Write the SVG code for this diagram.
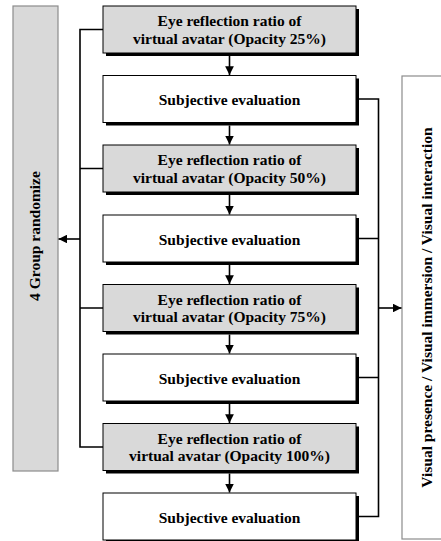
<svg xmlns="http://www.w3.org/2000/svg" width="441" height="541" viewBox="0 0 441 541">
<defs>
<style>
.bg{fill:#ffffff}
.side{fill:#d9d9d9;stroke:#8c8c8c;stroke-width:1.2}
.side2{fill:#ffffff;stroke:#8c8c8c;stroke-width:1.2}
.shadow{fill:#000000}
.gray{fill:#d9d9d9;stroke:#000;stroke-width:1}
.white{fill:#ffffff;stroke:#000;stroke-width:1}
.t{font-family:"Liberation Serif","Times New Roman",serif;font-weight:bold;font-size:15.5px;fill:#000;text-anchor:middle}
.c{fill:none;stroke:#000;stroke-width:1.6}
</style>
<marker id="ah" viewBox="0 0 10 10" refX="10" refY="5" markerWidth="5.5" markerHeight="5.5" orient="auto" markerUnits="strokeWidth">
<path d="M0,0 L10,5 L0,10 Z" fill="#000"/>
</marker>
</defs>
<rect class="bg" x="0" y="0" width="441" height="541"/>

<g id="randomize">
<rect class="side" x="13" y="6" width="45" height="465"/>
<text class="t" transform="translate(40,236) rotate(-90)">4 Group randomize</text>
</g>

<g id="outcomes">
<rect class="side2" x="402" y="76" width="50" height="463"/>
<text class="t" transform="translate(432,307.5) rotate(-90)">Visual presence / Visual immersion / Visual interaction</text>
</g>

<g id="eye25">
<rect class="shadow" x="106" y="9" width="253" height="47"/>
<rect class="gray" x="103" y="6" width="253" height="47"/>
<text class="t" x="229.5" y="26">Eye reflection ratio of</text>
<text class="t" x="229.5" y="43.5">virtual avatar (Opacity 25%)</text>
</g>
<g id="eval1">
<rect class="shadow" x="106" y="78.5" width="253" height="47"/>
<rect class="white" x="103" y="75.5" width="253" height="47"/>
<text class="t" x="229.5" y="105">Subjective evaluation</text>
</g>
<g id="eye50">
<rect class="shadow" x="106" y="148" width="253" height="47"/>
<rect class="gray" x="103" y="145" width="253" height="47"/>
<text class="t" x="229.5" y="165">Eye reflection ratio of</text>
<text class="t" x="229.5" y="182.5">virtual avatar (Opacity 50%)</text>
</g>
<g id="eval2">
<rect class="shadow" x="106" y="218" width="253" height="47"/>
<rect class="white" x="103" y="215" width="253" height="47"/>
<text class="t" x="229.5" y="244.5">Subjective evaluation</text>
</g>
<g id="eye75">
<rect class="shadow" x="106" y="287.5" width="253" height="47"/>
<rect class="gray" x="103" y="284.5" width="253" height="47"/>
<text class="t" x="229.5" y="304.5">Eye reflection ratio of</text>
<text class="t" x="229.5" y="322">virtual avatar (Opacity 75%)</text>
</g>
<g id="eval3">
<rect class="shadow" x="106" y="357" width="253" height="47"/>
<rect class="white" x="103" y="354" width="253" height="47"/>
<text class="t" x="229.5" y="383.5">Subjective evaluation</text>
</g>
<g id="eye100">
<rect class="shadow" x="106" y="426.5" width="253" height="47"/>
<rect class="gray" x="103" y="423.5" width="253" height="47"/>
<text class="t" x="229.5" y="443.5">Eye reflection ratio of</text>
<text class="t" x="229.5" y="461">virtual avatar (Opacity 100%)</text>
</g>
<g id="eval4">
<rect class="shadow" x="106" y="496" width="253" height="47"/>
<rect class="white" x="103" y="493" width="253" height="47"/>
<text class="t" x="229.5" y="522.5">Subjective evaluation</text>
</g>

<g id="connectors">
<line class="c" x1="229.5" y1="56" x2="229.5" y2="75" marker-end="url(#ah)"/>
<line class="c" x1="229.5" y1="125.5" x2="229.5" y2="144.5" marker-end="url(#ah)"/>
<line class="c" x1="229.5" y1="195" x2="229.5" y2="214.5" marker-end="url(#ah)"/>
<line class="c" x1="229.5" y1="265" x2="229.5" y2="284" marker-end="url(#ah)"/>
<line class="c" x1="229.5" y1="334.5" x2="229.5" y2="353.5" marker-end="url(#ah)"/>
<line class="c" x1="229.5" y1="404" x2="229.5" y2="423" marker-end="url(#ah)"/>
<line class="c" x1="229.5" y1="473.5" x2="229.5" y2="492.5" marker-end="url(#ah)"/>
<path class="c" d="M103,29.5 H80 V447 H103 M80,168.5 H103 M80,308 H103"/>
<line class="c" x1="80" y1="239" x2="58.5" y2="239" marker-end="url(#ah)"/>
<path class="c" d="M359,99 H378.5 V516.5 H359 M359,238.5 H378.5 M359,377.5 H378.5"/>
<line class="c" x1="378.5" y1="308" x2="401.5" y2="308" marker-end="url(#ah)"/>
</g>
</svg>
